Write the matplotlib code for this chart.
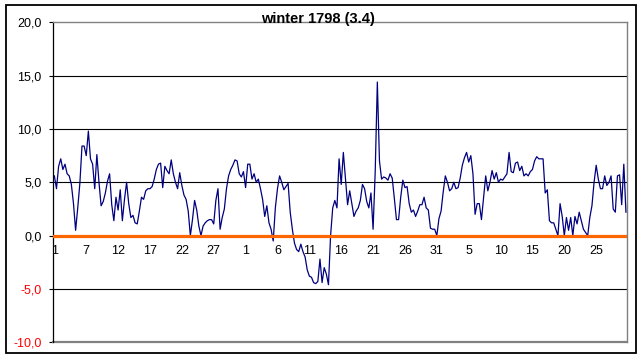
import matplotlib
matplotlib.use("Agg")
import matplotlib.pyplot as plt
from matplotlib.patches import Rectangle
import numpy as np

plt.rcParams['font.family'] = ['Liberation Sans', 'DejaVu Sans']

title = "winter 1798 (3.4)"

# three readings per day, Dec 1797 - Feb 1798
temps = [
    5.6, 4.4, 6.5, 7.2, 6.2, 6.7, 5.8, 5.6, 4.8, 3.0,
    0.5, 2.6, 4.9, 8.4, 8.4, 7.5, 9.8, 7.2, 6.7, 4.4,
    7.6, 5.0, 2.8, 3.2, 4.0, 5.1, 5.8, 2.9, 1.4, 3.6,
    2.4, 4.3, 1.4, 3.4, 5.0, 3.0, 1.7, 1.9, 1.2, 1.1,
    2.3, 3.6, 3.4, 4.2, 4.4, 4.4, 4.6, 5.3, 6.2, 6.7,
    6.8, 4.5, 6.5, 6.1, 5.8, 7.1, 5.8, 5.0, 4.4, 5.9,
    4.7, 3.8, 3.4, 2.3, 0.0, 1.5, 3.3, 2.4, 0.9, 0.0,
    0.9, 1.2, 1.4, 1.5, 1.5, 1.1, 3.3, 4.4, 0.6, 1.7,
    2.5, 4.4, 5.6, 6.2, 6.6, 7.1, 7.0, 5.8, 5.5, 6.0,
    4.5, 6.7, 6.7, 5.3, 5.8, 5.0, 5.3, 4.4, 3.4, 1.8,
    2.8, 1.2, 0.6, -0.5, 2.6, 4.4, 5.6, 5.0, 4.3, 4.6,
    4.9, 2.2, 0.6, -0.7, -1.3, -1.5, -0.8, -1.5, -2.0, -3.2,
    -3.8, -3.9, -4.4, -4.5, -4.3, -2.2, -4.4, -3.0, -3.6, -4.6,
    0.0, 2.6, 3.3, 2.6, 7.2, 4.8, 7.8, 5.3, 2.9, 4.2,
    3.0, 1.8, 2.3, 2.6, 3.3, 4.8, 4.4, 3.2, 2.6, 4.0,
    0.6, 6.0, 14.4, 7.0, 5.3, 5.5, 5.4, 5.2, 5.8, 5.4,
    3.5, 1.5, 1.5, 3.6, 5.2, 4.5, 4.6, 3.0, 2.2, 2.4,
    1.8, 2.3, 2.9, 2.9, 3.6, 2.6, 2.4, 0.7, 0.6, 0.6,
    0.0, 1.6, 2.3, 4.1, 5.6, 5.0, 4.2, 4.4, 5.0, 4.4,
    4.5, 5.4, 6.6, 7.3, 7.8, 6.9, 7.5, 5.8, 2.0, 3.0,
    3.0, 1.5, 3.6, 5.6, 4.2, 5.0, 6.1, 5.3, 5.9, 5.0,
    5.3, 5.2, 5.5, 5.8, 7.8, 6.0, 5.9, 6.8, 6.9, 6.1,
    6.5, 5.6, 5.8, 5.6, 6.0, 6.2, 7.0, 7.4, 7.2, 7.2,
    7.2, 4.0, 4.3, 1.4, 1.2, 1.2, 0.6, 0.0, 3.0, 1.8,
    0.0, 1.7, 0.5, 1.7, 0.0, 1.8, 1.1, 2.2, 1.4, 0.6,
    0.3, 0.0, 1.7, 2.8, 5.0, 6.6, 5.3, 4.4, 4.4, 5.6,
    4.7, 5.0, 5.6, 2.5, 2.2, 5.6, 5.7, 2.9, 6.7, 2.2,
]

day_labels = ["1", "7", "12", "17", "22", "27", "1", "6", "11", "16",
              "21", "26", "31", "5", "10", "15", "20", "25"]
label_step = 15

y_ticks = [-10, -5, 0, 5, 10, 15, 20]
y_labels = ["-10,0", "-5,0", "0,0", "5,0", "10,0", "15,0", "20,0"]

W, H = 643, 358
fig = plt.figure(figsize=(W / 100, H / 100), dpi=100)
fig.patch.set_facecolor("white")

# outer frame
fig.patches.append(Rectangle((5.5 / W, 1 - 352.5 / H), (636 - 5.5) / W, (352.5 - 5) / H,
                             transform=fig.transFigure, fill=False,
                             edgecolor="black", linewidth=1.3))

left, right, top, bottom = 53.3, 627, 22.3, 342.3
ax = fig.add_axes([left / W, 1 - bottom / H, (right - left) / W, (bottom - top) / H])

n = len(temps)
x = np.arange(n)
ax.set_xlim(-0.5, n - 0.5)
ax.set_ylim(-10, 20)

for g in [15, 10, 5, -5]:
    ax.axhline(g, color="black", lw=0.8, zorder=1)

ax.plot(x, temps, color="#000080", lw=0.9, zorder=3)
ax.axhline(0, color="#FF6600", lw=2.3, zorder=4)

for s in ["top", "right"]:
    ax.spines[s].set_color("#808080")
    ax.spines[s].set_linewidth(1.0)
ax.spines["left"].set_color("black")
ax.spines["left"].set_linewidth(0.9)
ax.spines["bottom"].set_position(("data", 0))
ax.spines["bottom"].set_visible(False)
# bottom border of plot area (gray)
ax.axhline(-10, color="#808080", lw=1.6, zorder=2, clip_on=False)

ax.set_yticks(y_ticks)
ax.set_yticklabels(y_labels)
for t, v in zip(ax.get_yticklabels(), y_ticks):
    t.set_color("red" if v < 0 else "black")
ax.tick_params(axis="y", length=3, width=0.8, pad=5.5, labelsize=9, direction="out")

ax.set_xticks(x[::label_step])
ax.set_xticklabels(day_labels)
ax.tick_params(axis="x", length=0, pad=6.5, labelsize=9)

fig.text(318 / W, 1 - 18.5 / H, title, ha="center", va="center",
         fontsize=10.5, fontweight="bold")

fig.savefig("out.png", dpi=100)
